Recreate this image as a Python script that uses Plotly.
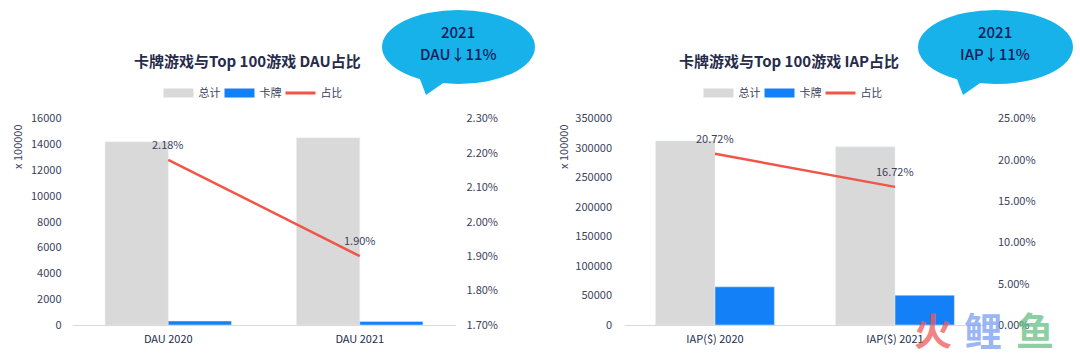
import plotly.graph_objects as go

# ---- data ----
dau_categories = ["DAU 2020", "DAU 2021"]
dau_total = [14200, 14500]
dau_card = [310, 275]
dau_ratio = [2.18, 1.90]

iap_categories = ["IAP($) 2020", "IAP($) 2021"]
iap_total = [312000, 302000]
iap_card = [64700, 50500]
iap_ratio = [20.72, 16.72]

titles = ["卡牌游戏与Top 100游戏 DAU占比", "卡牌游戏与Top 100游戏 IAP占比"]
bubble_years = ["2021", "2021"]
bubble_changes = ["DAU↓11%", "IAP↓11%"]
series_names = ["总计", "卡牌", "占比"]

W, H = 1080, 355
FONT = "Noto Sans CJK SC"
NAVY = "#262B4A"
TICK = "#3B3F5E"
GRAY = "#D9D9D9"
BLUE = "#1480F8"
RED = "#EF5548"
CYAN = "#17B2EA"


def px(x):
    return x / W


def py(y):
    return (H - y) / H


fig = go.Figure()

panels = [
    dict(cats=dau_categories, tot=dau_total, card=dau_card, ratio=dau_ratio,
         xa="x", ya="y", ya2="y2", legend="legend"),
    dict(cats=iap_categories, tot=iap_total, card=iap_card, ratio=iap_ratio,
         xa="x2", ya="y3", ya2="y4", legend="legend2"),
]

for p in panels:
    fig.add_trace(go.Bar(x=p["cats"], y=p["tot"], name=series_names[0], marker_color=GRAY,
                         xaxis=p["xa"], yaxis=p["ya"], showlegend=False, hoverinfo="skip"))
    fig.add_trace(go.Bar(x=p["cats"], y=p["card"], name=series_names[1], marker_color=BLUE,
                         xaxis=p["xa"], yaxis=p["ya"], showlegend=False, hoverinfo="skip"))
    fig.add_trace(go.Scatter(x=p["cats"], y=p["ratio"], name=series_names[2], mode="lines",
                             line=dict(color=RED, width=2.5),
                             xaxis=p["xa"], yaxis=p["ya2"], showlegend=False, hoverinfo="skip"))
    # legend entries (wide line swatches to mimic rectangular legend keys)
    for nm, col, w in [(series_names[0], GRAY, 9), (series_names[1], BLUE, 9), (series_names[2], RED, 3)]:
        fig.add_trace(go.Scatter(x=[None], y=[None], mode="lines", name=nm,
                                 line=dict(color=col, width=w),
                                 xaxis=p["xa"], yaxis=p["ya"], legend=p["legend"]))
    for c, r in zip(p["cats"], p["ratio"]):
        fig.add_annotation(x=c, y=r, xref=p["xa"], yref=p["ya2"], text=f"{r:.2f}%",
                           showarrow=False, yshift=16, xanchor="center", yanchor="middle",
                           font=dict(family=FONT, size=11, color=TICK))

ydom = [py(325), py(118.5)]
axis_font = dict(family=FONT, size=11, color=TICK)
leg_font = dict(family=FONT, size=11, color=TICK)

fig.update_layout(
    width=W, height=H,
    margin=dict(l=0, r=0, t=0, b=0, autoexpand=False),
    paper_bgcolor="white", plot_bgcolor="rgba(0,0,0,0)",
    barmode="group", bargap=0.34, bargroupgap=0,
    font=dict(family=FONT, color=NAVY),
    xaxis=dict(domain=[px(72.5), px(455.5)], showline=True, linecolor=GRAY, linewidth=1,
               ticks="", tickfont=dict(family=FONT, size=11, color=NAVY), showgrid=False,
               ticklabelstandoff=4, automargin=False),
    yaxis=dict(domain=ydom, range=[0, 16000], dtick=2000, tickformat="d", showgrid=False,
               zeroline=False, tickfont=axis_font, ticks="", ticklabelstandoff=10, anchor="x",
               automargin=False),
    yaxis2=dict(domain=ydom, range=[1.7, 2.3], dtick=0.1, tickformat=".2f", ticksuffix="%",
                overlaying="y", side="right", anchor="x", showgrid=False, zeroline=False,
                tickfont=axis_font, ticks="", ticklabelstandoff=10, automargin=False),
    xaxis2=dict(domain=[px(625), px(985)], showline=True, linecolor=GRAY, linewidth=1,
                ticks="", tickfont=dict(family=FONT, size=11, color=NAVY), showgrid=False,
                anchor="y3", ticklabelstandoff=4, automargin=False),
    yaxis3=dict(domain=ydom, range=[0, 350000], dtick=50000, tickformat="d", showgrid=False,
                zeroline=False, tickfont=axis_font, ticks="", ticklabelstandoff=12,
                anchor="x2", automargin=False),
    yaxis4=dict(domain=ydom, range=[0, 25], dtick=5, tickformat=".2f", ticksuffix="%",
                overlaying="y3", side="right", anchor="x2", showgrid=False, zeroline=False,
                tickfont=axis_font, ticks="", ticklabelstandoff=12, automargin=False),
    legend=dict(orientation="h", x=px(250), xanchor="center", y=py(93), yanchor="middle",
                font=leg_font, entrywidth=16, entrywidthmode="pixels",
                bgcolor="rgba(0,0,0,0)"),
    legend2=dict(orientation="h", x=px(790), xanchor="center", y=py(93), yanchor="middle",
                 font=leg_font, entrywidth=16, entrywidthmode="pixels",
                 bgcolor="rgba(0,0,0,0)"),
    showlegend=True,
)

# titles
for t, cx in zip(titles, [247, 789]):
    fig.add_annotation(x=px(cx), y=py(60), xref="paper", yref="paper", text=f"<b>{t}</b>",
                       xanchor="center", yanchor="middle",
                       showarrow=False, font=dict(family=FONT, size=15, color=NAVY))

# y-axis unit labels
for cx in [17, 563]:
    fig.add_annotation(x=px(cx), y=py(147), xref="paper", yref="paper", text="x 100000",
                       xanchor="center", yanchor="middle",
                       textangle=-90, showarrow=False, font=dict(family=FONT, size=11, color=TICK))

# speech bubbles
bubbles = [
    dict(x0=382, x1=535, tail=[(418, 74), (426, 95), (446, 81)], tx=458),
    dict(x0=918, x1=1073, tail=[(955, 74), (963, 95), (983, 81)], tx=995),
]
for b, yr, chg in zip(bubbles, bubble_years, bubble_changes):
    fig.add_shape(type="circle", xref="paper", yref="paper",
                  x0=px(b["x0"]), x1=px(b["x1"]), y0=py(84), y1=py(10),
                  fillcolor=CYAN, line=dict(width=0), layer="above")
    pts = b["tail"]
    path = "M {} {} L {} {} L {} {} Z".format(px(pts[0][0]), py(pts[0][1]), px(pts[1][0]), py(pts[1][1]),
                                              px(pts[2][0]), py(pts[2][1]))
    fig.add_shape(type="path", xref="paper", yref="paper", path=path,
                  fillcolor=CYAN, line=dict(width=0), layer="above")
    for txt, ty in [(yr, 32), (chg, 53)]:
        fig.add_annotation(x=px(b["tx"]), y=py(ty), xref="paper", yref="paper", text=txt,
                           xanchor="center", yanchor="middle", borderpad=0,
                           showarrow=False, font=dict(family=FONT, size=15, color="#14205A", weight=500))

# watermark
for ch, cx, col in [("火", 933, "rgba(238,90,90,0.75)"), ("鲤", 983, "rgba(110,150,240,0.7)"),
                    ("鱼", 1035, "rgba(90,185,120,0.7)")]:
    fig.add_annotation(x=px(cx), y=py(328), xref="paper", yref="paper", text=f"<b>{ch}</b>",
                       xanchor="center", yanchor="middle",
                       showarrow=False, font=dict(family=FONT, size=38, color=col))

fig.write_html("out.html", config={"displayModeBar": False},
               post_script="document.body.style.margin='0';")
